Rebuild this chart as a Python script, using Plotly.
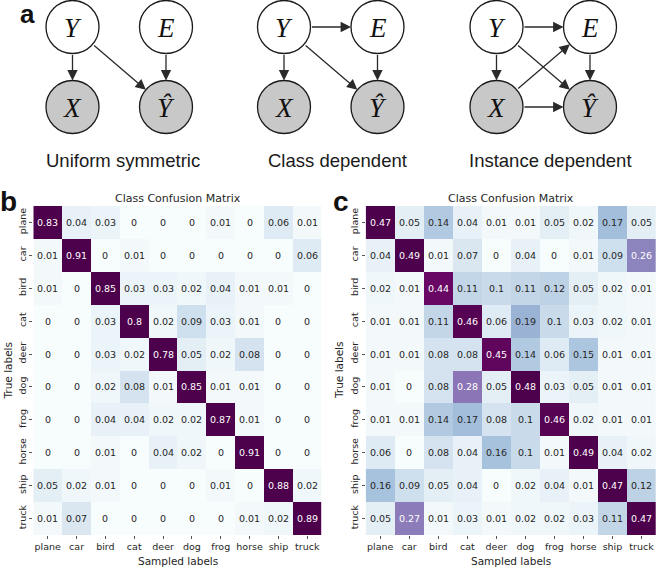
import plotly.graph_objects as go

W, H = 656, 568

classes = ["plane", "car", "bird", "cat", "deer", "dog", "frog", "horse", "ship", "truck"]

cm_class_dependent = [
    [0.83, 0.04, 0.03, 0, 0, 0, 0.01, 0, 0.06, 0.01],
    [0.01, 0.91, 0, 0.01, 0, 0, 0, 0, 0, 0.06],
    [0.01, 0, 0.85, 0.03, 0.03, 0.02, 0.04, 0.01, 0.01, 0],
    [0, 0, 0.03, 0.8, 0.02, 0.09, 0.03, 0.01, 0, 0],
    [0, 0, 0.03, 0.02, 0.78, 0.05, 0.02, 0.08, 0, 0],
    [0, 0, 0.02, 0.08, 0.01, 0.85, 0.01, 0.01, 0, 0],
    [0, 0, 0.04, 0.04, 0.02, 0.02, 0.87, 0.01, 0, 0],
    [0, 0, 0.01, 0, 0.04, 0.02, 0, 0.91, 0, 0],
    [0.05, 0.02, 0.01, 0, 0, 0, 0.01, 0, 0.88, 0.02],
    [0.01, 0.07, 0, 0, 0, 0, 0, 0.01, 0.02, 0.89],
]

cm_instance_dependent = [
    [0.47, 0.05, 0.14, 0.04, 0.01, 0.01, 0.05, 0.02, 0.17, 0.05],
    [0.04, 0.49, 0.01, 0.07, 0, 0.04, 0, 0.01, 0.09, 0.26],
    [0.02, 0.01, 0.44, 0.11, 0.1, 0.11, 0.12, 0.05, 0.02, 0.01],
    [0.01, 0.01, 0.11, 0.46, 0.06, 0.19, 0.1, 0.03, 0.02, 0.01],
    [0.01, 0.01, 0.08, 0.08, 0.45, 0.14, 0.06, 0.15, 0.01, 0.01],
    [0.01, 0, 0.08, 0.28, 0.05, 0.48, 0.03, 0.05, 0.01, 0.01],
    [0.01, 0.01, 0.14, 0.17, 0.08, 0.1, 0.46, 0.02, 0.01, 0.01],
    [0.06, 0, 0.08, 0.04, 0.16, 0.1, 0.01, 0.49, 0.04, 0.02],
    [0.16, 0.09, 0.05, 0.04, 0, 0.02, 0.04, 0.01, 0.47, 0.12],
    [0.05, 0.27, 0.01, 0.03, 0.01, 0.02, 0.02, 0.03, 0.11, 0.47],
]

diagram_titles = ["Uniform symmetric", "Class dependent", "Instance dependent"]
diagram_edges = [
    [("Y", "X"), ("Y", "Yh"), ("E", "Yh")],
    [("Y", "X"), ("Y", "E"), ("Y", "Yh"), ("E", "Yh")],
    [("Y", "X"), ("Y", "E"), ("Y", "Yh"), ("E", "Yh"), ("X", "E"), ("X", "Yh")],
]

# ---------------- styling / layout constants ----------------
TXT = "#262626"
ZMAX = 0.47
BUPU = [(247, 252, 253), (224, 236, 244), (191, 211, 230), (158, 188, 218),
        (140, 150, 198), (140, 107, 177), (136, 65, 157), (129, 15, 124), (77, 0, 75)]


def color_at(v):
    t = max(0.0, min(1.0, v / ZMAX)) * (len(BUPU) - 1)
    i = min(int(t), len(BUPU) - 2)
    f = t - i
    return [BUPU[i][k] + (BUPU[i + 1][k] - BUPU[i][k]) * f for k in range(3)]


def lum(rgb):
    out = []
    for c in rgb:
        c = c / 255
        out.append(c / 12.92 if c <= 0.03928 else ((c + 0.055) / 1.055) ** 2.4)
    return 0.2126 * out[0] + 0.7152 * out[1] + 0.0722 * out[2]


# heatmap placement in pixels
HM_TOP, HM_BOT = 206, 535
panels = [
    dict(z=cm_class_dependent, x0=33.3, x1=321.7, xa="x", ya="y", title_lbl="b",
         ylabel_x=7, lbl_x=8),
    dict(z=cm_instance_dependent, x0=365.7, x1=656, xa="x2", ya="y2", title_lbl="c",
         ylabel_x=338.5, lbl_x=341),
]

fig = go.Figure()
annotations = []
shapes = []

for p in panels:
    fig.add_trace(go.Heatmap(
        z=p["z"], x=classes, y=classes, xaxis=p["xa"], yaxis=p["ya"],
        colorscale="BuPu", zmin=0, zmax=ZMAX, showscale=False, hoverinfo="skip",
    ))
    for i, row in enumerate(p["z"]):
        for j, v in enumerate(row):
            col = "white" if lum(color_at(v)) < 0.408 else TXT
            annotations.append(dict(
                x=classes[j], y=classes[i], xref=p["xa"], yref=p["ya"],
                text=f"{v:g}", showarrow=False,
                font=dict(family="DejaVu Sans", size=9.5, color=col),
            ))
    cx = (p["x0"] + p["x1"]) / 2 / W
    annotations.append(dict(x=cx, y=1 - 198 / H, xref="paper", yref="paper",
                            text="Class Confusion Matrix", showarrow=False,
                            xanchor="center", yanchor="middle",
                            font=dict(family="DejaVu Sans", size=11, color=TXT)))
    annotations.append(dict(x=cx, y=1 - 561 / H, xref="paper", yref="paper",
                            text="Sampled labels", showarrow=False,
                            xanchor="center", yanchor="middle",
                            font=dict(family="DejaVu Sans", size=10.5, color=TXT)))
    annotations.append(dict(x=p["ylabel_x"] / W, y=1 - (HM_TOP + HM_BOT) / 2 / H,
                            xref="paper", yref="paper", textangle=-90,
                            text="True labels", showarrow=False,
                            xanchor="center", yanchor="middle",
                            font=dict(family="DejaVu Sans", size=10.5, color=TXT)))
    annotations.append(dict(x=p["lbl_x"] / W, y=1 - 201 / H, xref="paper", yref="paper",
                            text="<b>%s</b>" % p["title_lbl"], showarrow=False,
                            xanchor="center", yanchor="middle",
                            font=dict(family="Liberation Sans", size=28, color="#111")))

# ---------------- panel a : graphical models ----------------
A_H = 185  # pixel height of the diagram strip
R = 26.5
ROW_TOP, ROW_BOT = 27, 107
diag_x = [72.5, 284, 496.5]
DX = 93.5
title_x = [122.5, 337.5, 550]
node_label = {"Y": "Y", "E": "E", "X": "X", "Yh": "Ŷ"}

for d, x0 in enumerate(diag_x):
    pos = {"Y": (x0, ROW_TOP), "E": (x0 + DX, ROW_TOP),
           "X": (x0, ROW_BOT), "Yh": (x0 + DX, ROW_BOT)}
    for name, (cx, cy) in pos.items():
        fill = "white" if name in ("Y", "E") else "#c8c8c8"
        shapes.append(dict(type="circle", xref="x3", yref="y3",
                           x0=cx - R, x1=cx + R, y0=cy - R, y1=cy + R,
                           fillcolor=fill, line=dict(color="#1a1a1a", width=1.3),
                           layer="below"))
        annotations.append(dict(x=cx, y=cy + 1, xref="x3", yref="y3",
                                text="<i>%s</i>" % node_label[name], showarrow=False,
                                xanchor="center", yanchor="middle",
                                font=dict(family="Liberation Serif", size=27, color="#111")))
    for a, b in diagram_edges[d]:
        (ax_, ay_), (bx_, by_) = pos[a], pos[b]
        dx, dy = bx_ - ax_, by_ - ay_
        n = (dx * dx + dy * dy) ** 0.5
        ux, uy = dx / n, dy / n
        annotations.append(dict(
            x=bx_ - ux * R, y=by_ - uy * R, ax=ax_ + ux * R, ay=ay_ + uy * R,
            xref="x3", yref="y3", axref="x3", ayref="y3", text="",
            showarrow=True, arrowhead=2, arrowsize=1.6, arrowwidth=1.3,
            arrowcolor="#2a2a2a", standoff=0, startstandoff=0,
        ))
    annotations.append(dict(x=title_x[d], y=160, xref="x3", yref="y3",
                            text=diagram_titles[d], showarrow=False,
                            xanchor="center", yanchor="middle",
                            font=dict(family="Liberation Sans", size=18.5, color="#1a1a1a")))

annotations.append(dict(x=27, y=14, xref="x3", yref="y3", text="<b>a</b>",
                        showarrow=False, xanchor="center", yanchor="middle",
                        font=dict(family="Liberation Sans", size=26, color="#111")))

# ---------------- axes ----------------
tick_font = dict(family="DejaVu Sans", size=9.5, color=TXT)
ydom = [1 - HM_BOT / H, 1 - HM_TOP / H]


def xaxis_cfg(p, anchor):
    return dict(showgrid=False, zeroline=False, showline=False, ticks="outside",
                ticklen=3, tickwidth=0.8, tickcolor="#555", tickfont=tick_font,
                automargin=False, domain=[p["x0"] / W, p["x1"] / W], anchor=anchor)


def yaxis_cfg(anchor):
    return dict(showgrid=False, zeroline=False, showline=False, ticks="outside",
                ticklen=3, tickwidth=0.8, tickcolor="#555", tickfont=tick_font,
                autorange="reversed", tickangle=-90, automargin=False,
                domain=ydom, anchor=anchor)


fig.update_layout(
    width=W, height=H, margin=dict(l=0, r=0, t=0, b=0),
    paper_bgcolor="white", plot_bgcolor="rgba(0,0,0,0)",
    xaxis=xaxis_cfg(panels[0], "y"), yaxis=yaxis_cfg("x"),
    xaxis2=xaxis_cfg(panels[1], "y2"), yaxis2=yaxis_cfg("x2"),
    xaxis3=dict(domain=[0, 1], range=[0, W], visible=False, anchor="y3", fixedrange=True),
    yaxis3=dict(domain=[1 - A_H / H, 1], range=[A_H, 0], visible=False, anchor="x3",
                fixedrange=True),
    annotations=annotations, shapes=shapes, showlegend=False,
)

fig.write_html("out.html", config={"displayModeBar": False},
               post_script="document.body.style.margin='0px';document.body.style.overflow='hidden';")
